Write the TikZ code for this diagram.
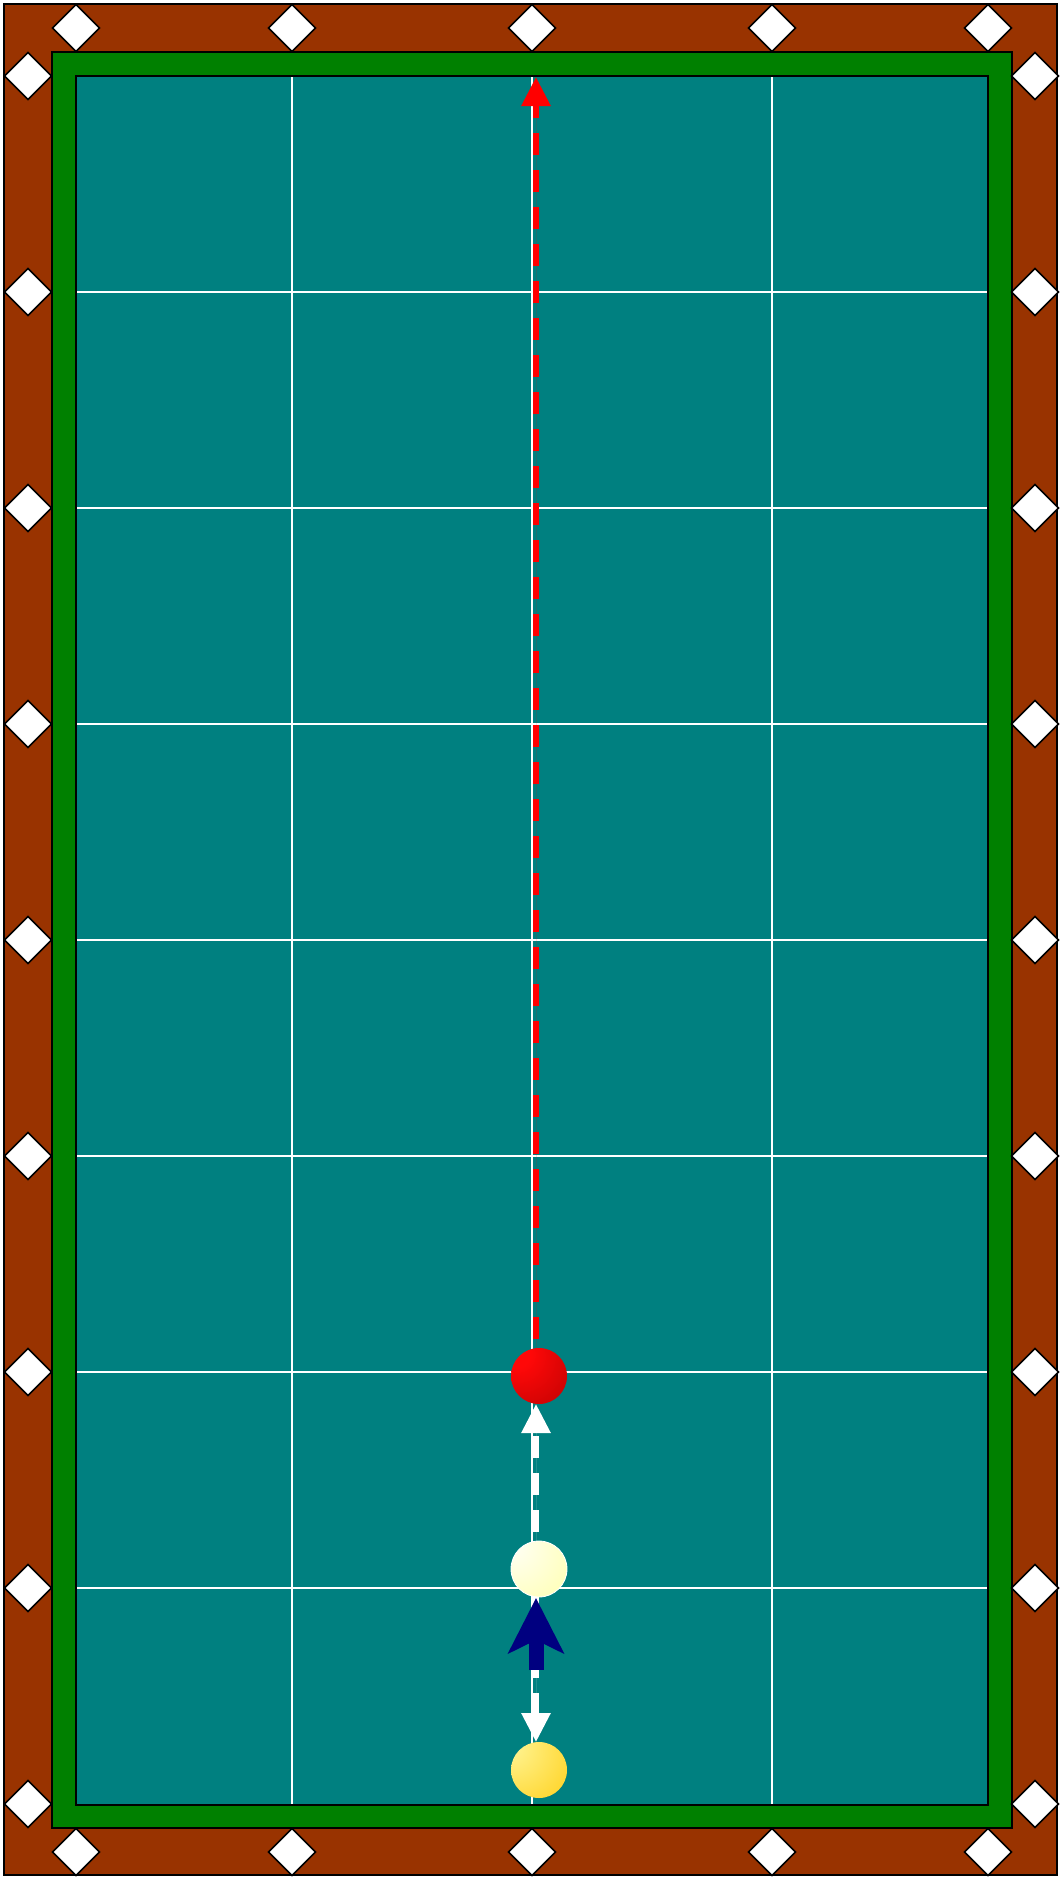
\documentclass[tikz,border=0pt]{standalone}
\usetikzlibrary{arrows.meta}
\definecolor{rail}{RGB}{153,51,0}
\definecolor{cushion}{RGB}{0,128,0}
\definecolor{cloth}{RGB}{0,128,128}
\definecolor{cueblue}{RGB}{0,0,128}
\definecolor{redA}{RGB}{255,8,8}
\definecolor{redB}{RGB}{168,0,0}
\definecolor{cueA}{RGB}{255,255,240}
\definecolor{cueB}{RGB}{255,255,160}
\definecolor{yelA}{RGB}{255,242,140}
\definecolor{yelB}{RGB}{255,200,0}
\pgfdeclareradialshading{redball}{\pgfpoint{-22bp}{22bp}}{color(0bp)=(redA); color(12bp)=(redA); color(72bp)=(redB); color(120bp)=(redB)}
\pgfdeclareradialshading{cueball}{\pgfpoint{-28bp}{24bp}}{color(0bp)=(cueA); color(8bp)=(cueA); color(70bp)=(cueB); color(125bp)=(cueB)}
\pgfdeclareradialshading{yelball}{\pgfpoint{-30bp}{24bp}}{color(0bp)=(yelA); color(8bp)=(yelA); color(72bp)=(yelB); color(125bp)=(yelB)}
\tikzset{
  frame/.style={draw=black, line width=2pt},
  gridline/.style={draw=white, line width=2pt},
  diamstyle/.style={fill=white, draw=black, line width=1.6pt, line join=miter},
  pics/diam/.style={code={\draw[diamstyle] (-23.5,0)--(0,-23.5)--(23.5,0)--(0,23.5)--cycle;}},
  shot/.style={line width=6pt, dash pattern=on 22pt off 15pt, -{Triangle[length=29pt,width=28pt]}},
  cuearrow/.style={line width=15pt, draw=cueblue, -{Stealth[length=55pt,width=55pt,inset=13pt]}},
  ball/.style={circle, minimum size=56pt, inner sep=0pt}
}
\begin{document}
\begin{tikzpicture}[x=1pt,y=-1pt]
\useasboundingbox (0,0) rectangle (1060,1877);
% rails and cushion
\draw[frame, fill=rail] (4,4) rectangle (1057,1875);
\draw[frame, fill=cushion] (52,52) rectangle (1012,1828);
\fill[cloth] (76,76) rectangle (988,1805);
% grid
\foreach \x in {292,532,772} \draw[gridline] (\x,76) -- (\x,1805);
\foreach \y in {292,508,724,940,1156,1372,1588} \draw[gridline] (76,\y) -- (988,\y);
\draw[frame] (76,76) rectangle (988,1805);
% diamonds
\foreach \x in {76,292,532,772,988} {
  \pic at (\x,28) {diam};
  \pic at (\x,1852) {diam};
}
\foreach \y in {76,292,508,724,940,1156,1372,1588,1804} {
  \pic at (28,\y) {diam};
  \pic at (1035,\y) {diam};
}
% coordinates
\coordinate (redstart) at (536,1376);
\coordinate (redtip) at (536,77);
\coordinate (cuestart) at (536,1569);
\coordinate (cuetip) at (536,1404);
\coordinate (backstart) at (536,1582);
\coordinate (backtip) at (536,1742);
\coordinate (stickend) at (536,1670);
\coordinate (sticktip) at (536,1598);
% paths
\draw[shot, draw=red, fill=red] (redstart) -- (redtip);
\draw[shot, draw=white, fill=white] (cuestart) -- (cuetip);
\draw[shot, draw=white, fill=white] (backstart) -- (backtip);
\draw[cuearrow] (stickend) -- (sticktip);
% balls
\node[ball, shading=redball] (redb) at (539,1376) {};
\node[ball, shading=cueball, draw=white, line width=0.8pt] (cueb) at (539,1569) {};
\node[ball, shading=yelball] (yelb) at (539,1770) {};
\end{tikzpicture}
\end{document}
